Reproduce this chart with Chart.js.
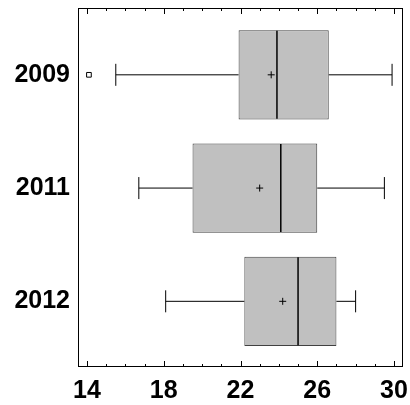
<!DOCTYPE html>
<html>
<head>
<meta charset="utf-8">
<script src="https://cdn.jsdelivr.net/npm/chart.js@4/dist/chart.umd.min.js"></script>
<style>
  html, body { margin: 0; padding: 0; background: #fff; }
  #wrap { width: 410px; height: 405px; }
</style>
</head>
<body>
<div id="wrap"><canvas id="boxChart" width="410" height="405"></canvas></div>
<script>
(function() {
    'use strict';

    // ===== Data =====
    const categories = ['2009', '2011', '2012'];
    const whiskerLow = [15.5, 16.7, 18.1];
    const q1 = [21.9, 19.5, 22.2];
    const median = [23.9, 24.1, 25.0];
    const q3 = [26.6, 26.0, 27.0];
    const whiskerHigh = [29.9, 29.5, 28.0];
    const means = [23.6, 23.0, 24.2];
    const outliers = [[14.1], [], []];
    const xTicks = [14, 18, 22, 26, 30];

    const FONT = "'Liberation Sans', Arial, Helvetica, sans-serif";

    // ===== Build datasets =====
    const boxes = categories.map((c, i) => ({ x: [q1[i], q3[i]], y: i }));

    const whiskers = [];
    categories.forEach((c, i) => {
        whiskers.push({ x: whiskerLow[i], y: i }, { x: q1[i], y: i }, { x: null, y: null });
        whiskers.push({ x: q3[i], y: i }, { x: whiskerHigh[i], y: i }, { x: null, y: null });
    });

    const caps = [];
    categories.forEach((c, i) => {
        caps.push({ x: whiskerLow[i], y: i }, { x: whiskerHigh[i], y: i });
    });

    const medians = median.map((v, i) => ({ x: v, y: i }));
    const meanPts = means.map((v, i) => ({ x: v, y: i }));
    const outlierPts = [];
    outliers.forEach((list, i) => list.forEach(v => outlierPts.push({ x: v, y: i })));

    // ===== Frame + inward ticks =====
    const framePlugin = {
        id: 'frameTicks',
        afterDraw(chart) {
            const ctx = chart.ctx;
            const a = chart.chartArea;
            const xs = chart.scales.x;
            ctx.save();
            ctx.strokeStyle = '#000';
            ctx.lineWidth = 1;
            ctx.strokeRect(Math.round(a.left) + 0.5, Math.round(a.top) + 0.5,
                Math.round(a.right - a.left) - 1, Math.round(a.bottom - a.top) - 1);
            ctx.beginPath();
            for (let v = Math.ceil(xs.min); v <= Math.floor(xs.max); v++) {
                const px = Math.round(xs.getPixelForValue(v)) + 0.5;
                const len = (v - xTicks[0]) % 4 === 0 ? 6 : 3;
                ctx.moveTo(px, a.bottom);
                ctx.lineTo(px, a.bottom - len);
                ctx.moveTo(px, a.top);
                ctx.lineTo(px, a.top + len);
            }
            ctx.stroke();
            ctx.restore();
        }
    };

    new Chart(document.getElementById('boxChart').getContext('2d'), {
        type: 'bar',
        data: {
            datasets: [{
                label: 'box',
                data: boxes,
                backgroundColor: '#c0c0c0',
                borderColor: '#404040',
                borderWidth: 1,
                borderSkipped: false,
                barPercentage: 0.787,
                categoryPercentage: 1,
                order: 5
            }, {
                type: 'line',
                label: 'whiskers',
                data: whiskers,
                borderColor: '#000',
                borderWidth: 1,
                pointRadius: 0,
                spanGaps: false,
                order: 4
            }, {
                type: 'scatter',
                label: 'caps',
                data: caps,
                pointStyle: 'line',
                rotation: 90,
                pointRadius: 11,
                borderColor: '#000',
                borderWidth: 1,
                order: 3
            }, {
                type: 'scatter',
                label: 'median',
                data: medians,
                pointStyle: 'line',
                rotation: 90,
                pointRadius: 44,
                borderColor: '#000',
                borderWidth: 1.5,
                order: 2
            }, {
                type: 'scatter',
                label: 'mean',
                data: meanPts,
                pointStyle: 'cross',
                pointRadius: 3.5,
                borderColor: '#000',
                borderWidth: 1,
                order: 1
            }, {
                type: 'scatter',
                label: 'outliers',
                data: outlierPts,
                pointStyle: 'rect',
                pointRadius: 3.3,
                backgroundColor: '#fff',
                borderColor: '#000',
                borderWidth: 1,
                order: 1
            }]
        },
        options: {
            indexAxis: 'y',
            responsive: false,
            animation: false,
            events: [],
            layout: { autoPadding: false, padding: { top: 8, right: 7, left: 0, bottom: 0 } },
            plugins: {
                legend: { display: false },
                tooltip: { enabled: false }
            },
            scales: {
                x: {
                    type: 'linear',
                    position: 'bottom',
                    offset: false,
                    min: 13.53,
                    max: 30.47,
                    grid: { display: false, drawTicks: false, offset: false },
                    border: { display: false },
                    afterBuildTicks: s => { s.ticks = xTicks.map(v => ({ value: v })); },
                    afterFit: s => {
                        s.height = 38;
                        s.paddingLeft = 0;
                        s.paddingRight = 0;
                    },
                    ticks: {
                        autoSkip: false,
                        maxRotation: 0,
                        padding: 9,
                        color: '#000',
                        font: { family: FONT, size: 25, weight: 'bold' }
                    }
                },
                y: {
                    type: 'linear',
                    reverse: true,
                    offset: false,
                    min: -0.59,
                    max: 2.58,
                    grid: { display: false, drawTicks: false, offset: false },
                    border: { display: false },
                    afterBuildTicks: s => { s.ticks = categories.map((c, i) => ({ value: i })); },
                    afterFit: s => {
                        s.width = 78;
                        s.paddingTop = 0;
                        s.paddingBottom = 0;
                    },
                    ticks: {
                        autoSkip: false,
                        padding: 8,
                        color: '#000',
                        font: { family: FONT, size: 25, weight: 'bold' },
                        callback: v => categories[v] !== undefined ? categories[v] : ''
                    }
                }
            }
        },
        plugins: [framePlugin]
    });
})();
</script>
</body>
</html>
